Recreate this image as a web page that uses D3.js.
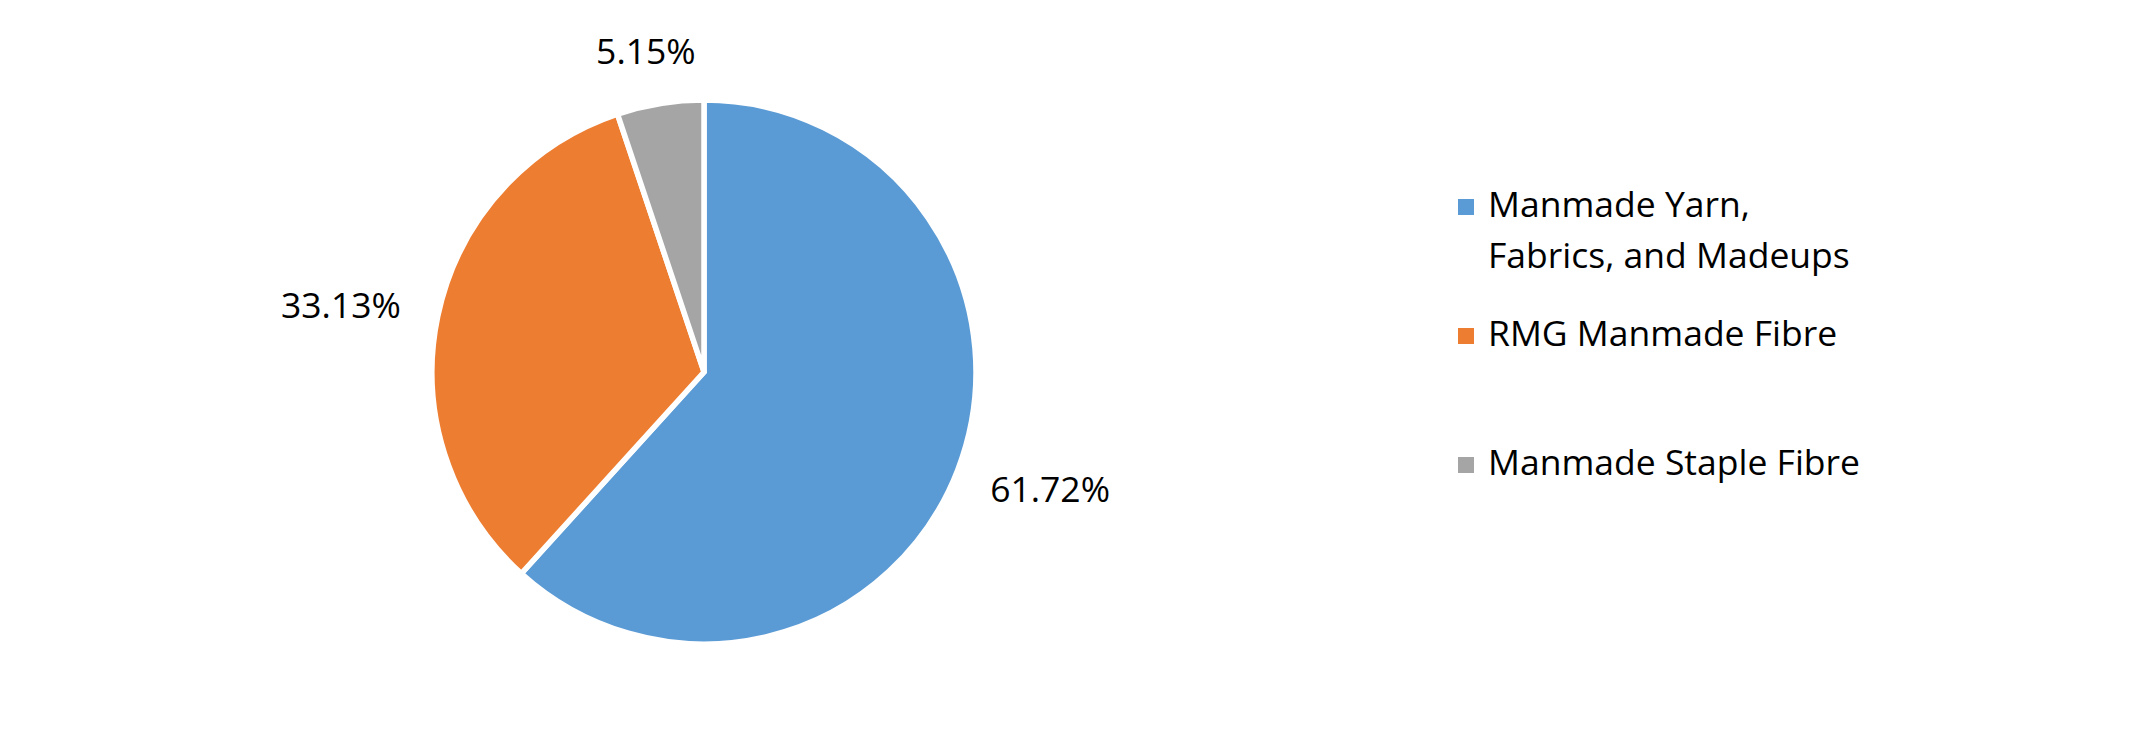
<!DOCTYPE html>
<html lang="en">
<head>
    <meta charset="UTF-8">
    <title>Manmade textiles share</title>
    <script src="https://d3js.org/d3.v7.min.js"></script>
    <style>
        *{
            margin: 0;
            padding: 0;
        }
        body{
            background: #fff;
        }
        text{
            font-family: "Open Sans", sans-serif;
            fill: #000;
        }
    </style>
</head>
<body>
    <div id="content"></div>

    <script>
        // data
        var categories = ["Manmade Yarn, Fabrics, and Madeups", "RMG Manmade Fibre", "Manmade Staple Fibre"];
        var legendLines = [["Manmade Yarn,", "Fabrics, and Madeups"], ["RMG Manmade Fibre"], ["Manmade Staple Fibre"]];
        var shares = [61.72, 33.13, 5.15];
        var colors = ["#5B9BD5", "#ED7D31", "#A5A5A5"];

        var width = 2153;
        var height = 745;
        var cx = 704, cy = 372, radius = 272;
        var fontSize = 35.5;

        var svg = d3.select("#content")
                .append("svg")
                .attr("width", width).attr("height", height);

        var color = d3.scaleOrdinal().domain(categories).range(colors);

        var pie = d3.pie().sort(null).value(function(d){ return d; });
        var arc = d3.arc().innerRadius(0).outerRadius(radius);
        var arcs = pie(shares);

        var g = svg.append("g").attr("transform", "translate(" + cx + "," + cy + ")");

        /* slices */
        g.selectAll("path.slice").data(arcs).enter().append("path")
                .attr("class", "slice")
                .attr("d", arc)
                .attr("fill", function(d, i){ return color(categories[i]); })
                .attr("stroke", "#fff")
                .attr("stroke-width", 5.5)
                .attr("stroke-linejoin", "miter");

        /* percent labels, outside end */
        var labelGap = 39;
        var boxH = 28;
        g.selectAll("text.pct").data(arcs).enter().append("text")
                .attr("class", "pct")
                .style("font-size", fontSize + "px")
                .attr("text-anchor", "middle")
                .text(function(d){ return d.data.toFixed(2) + "%"; })
                .each(function(d){
                    var a = (d.startAngle + d.endAngle) / 2;
                    var dx = Math.sin(a), dy = -Math.cos(a);
                    var w = this.getComputedTextLength();
                    var x = (radius + labelGap) * dx + dx * w / 2;
                    var y = (radius + labelGap) * dy + dy * boxH / 2;
                    d3.select(this).attr("x", x).attr("y", y + fontSize * 0.357);
                });

        /* legend */
        var legendX = 1458, legendY = 217, legendStep = 129, sq = 16;
        var legend = svg.append("g").selectAll("g").data(categories).enter().append("g")
                .attr("transform", function(d, i){ return "translate(" + legendX + "," + (legendY + i * legendStep) + ")"; });

        legend.append("rect")
                .attr("x", 0).attr("y", -18)
                .attr("width", sq).attr("height", sq)
                .attr("fill", function(d){ return color(d); });

        legend.append("text")
                .style("font-size", fontSize + "px")
                .attr("x", 30)
                .selectAll("tspan").data(function(d, i){ return legendLines[i]; }).enter().append("tspan")
                .attr("x", 30)
                .attr("y", function(d, j){ return j * 51; })
                .text(function(d){ return d; });
    </script>
</body>
</html>
